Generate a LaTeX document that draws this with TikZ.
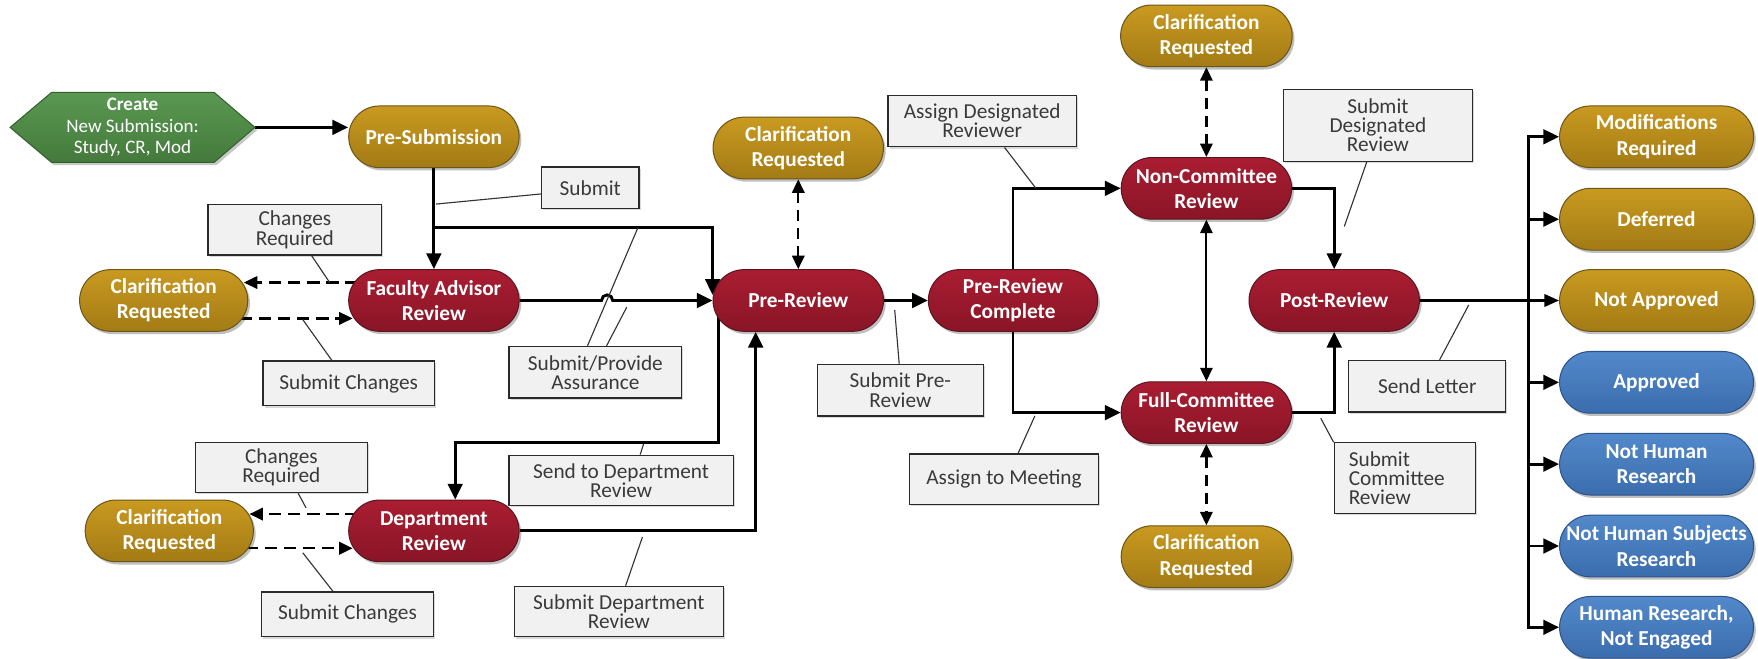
\documentclass[tikz,border=0pt]{standalone}
\usepackage{fontspec}
\setmainfont{Carlito}
\usetikzlibrary{arrows.meta,shadows,calc}
\pgfdeclarelayer{background}
\pgfsetlayers{background,main}

\definecolor{goldT}{HTML}{C99A20}
\definecolor{goldB}{HTML}{A37B15}
\definecolor{goldD}{HTML}{6B5518}
\definecolor{redT}{HTML}{AA1D32}
\definecolor{redB}{HTML}{891526}
\definecolor{redD}{HTML}{5C1420}
\definecolor{blueT}{HTML}{5289CA}
\definecolor{blueB}{HTML}{3B6DAE}
\definecolor{blueD}{HTML}{2D5287}
\definecolor{greenT}{HTML}{5A9852}
\definecolor{greenB}{HTML}{447A3C}
\definecolor{greenD}{HTML}{335F2D}
\definecolor{lblF}{HTML}{F1F1F1}
\definecolor{lblD}{HTML}{2A2A2A}
\definecolor{lblT}{HTML}{3A3A3A}
\definecolor{leadC}{HTML}{333333}

\begin{document}
\begin{tikzpicture}[x=1pt,y=-1pt,
  pill/.style={rectangle, rounded corners=27.5pt, minimum width=152pt, minimum height=55pt,
    inner sep=0pt, align=center, text=white, font=\fontsize{19}{22.5}\selectfont\bfseries,
    line width=0.9pt, drop shadow={shadow xshift=2pt, shadow yshift=-2.5pt, opacity=0.25, fill=black}},
  goldpill/.style={pill, top color=goldT, bottom color=goldB, draw=goldD},
  redpill/.style={pill, top color=redT, bottom color=redB, draw=redD},
  bluepill/.style={pill, top color=blueT, bottom color=blueB, draw=blueD},
  outw/.style={minimum width=173pt},
  lbl/.style={rectangle, draw=lblD, line width=1.1pt, fill=lblF, text=lblT, align=center,
    inner sep=0pt, font=\fontsize{19}{17}\selectfont,
    drop shadow={shadow xshift=1.5pt, shadow yshift=-1.5pt, opacity=0.15, fill=black}},
  conn/.style={line width=2.6pt, -{Triangle[length=14pt,width=13pt]}},
  thinconn/.style={line width=2pt, -{Triangle[length=13pt,width=11pt]}},
  dasharr/.style={line width=2.2pt, dash pattern=on 11pt off 6pt, -{Triangle[length=12pt,width=11pt]}},
  dashboth/.style={line width=2pt, dash pattern=on 10pt off 6pt,
    {Triangle[length=12pt,width=11pt]}-{Triangle[length=12pt,width=11pt]}},
  solidboth/.style={line width=1.8pt, {Triangle[length=12pt,width=11pt]}-{Triangle[length=12pt,width=11pt]}},
  lead/.style={line width=1pt, draw=leadC},
  busline/.style={line width=2.6pt, line cap=rect}
]
\useasboundingbox (0,0) rectangle (1568,587);

% ---------- hexagon ----------
\fill[black, opacity=0.22] (11,116.1) -- (48,84.9) -- (193,84.9) -- (229.4,116.1) -- (193,147.3) -- (48,147.3) -- cycle;
\draw[draw=greenD, line width=0.9pt, top color=greenT, bottom color=greenB]
  (9,113.6) -- (46,82.4) -- (191,82.4) -- (227.4,113.6) -- (191,144.8) -- (46,144.8) -- cycle;
\node[text=white, font=\fontsize{17}{19.5}\selectfont, align=center, minimum width=218.4pt,
  minimum height=62.4pt, inner sep=0pt] (create) at (118.2,113.6)
  {\textbf{Create}\\New Submission:\\Study, CR, Mod};

% ---------- pills ----------
\node[goldpill] (presub) at (387,122) {Pre-Submission};
\node[redpill] (far) at (387,268) {Faculty Advisor\\Review};
\node[goldpill, minimum width=150pt] (clarA) at (146,268) {Clarification\\Requested};
\node[redpill] (dept) at (387,473.5) {Department\\Review};
\node[goldpill, minimum width=150pt] (clarB) at (151,473.5) {Clarification\\Requested};
\node[redpill] (prerev) at (712,268) {Pre-Review};
\node[goldpill] (clarM) at (712,132) {Clarification\\Requested};
\node[redpill, minimum width=151pt] (prc) at (903.5,268) {Pre-Review\\Complete};
\node[redpill] (ncr) at (1076,168) {Non-Committee\\Review};
\node[redpill] (fcr) at (1076,368) {Full-Committee\\Review};
\node[goldpill, minimum width=153pt] (clarT) at (1076,32) {Clarification\\Requested};
\node[goldpill] (clarD) at (1076,496.5) {Clarification\\Requested};
\node[redpill] (post) at (1190,268) {Post-Review};

\node[goldpill, outw] (mod) at (1477.5,122) {Modifications\\Required};
\node[goldpill, outw] (defr) at (1477.5,195.5) {Deferred};
\node[goldpill, outw] (na) at (1477.5,268) {Not Approved};
\node[bluepill, outw] (appr) at (1477.5,341) {Approved};
\node[bluepill, outw] (nhr) at (1477.5,414) {Not Human\\Research};
\node[bluepill, outw] (nhsr) at (1477.5,487) {Not Human Subjects\\Research};
\node[bluepill, outw] (hrne) at (1477.5,559.5) {Human Research,\\Not Engaged};

% ---------- label boxes ----------
\node[lbl, minimum width=155pt, minimum height=45pt] (cr1) at (263,205) {Changes\\Required};
\node[lbl, minimum width=153pt, minimum height=40pt] (sc1) at (311,342) {Submit Changes};
\node[lbl, minimum width=153pt, minimum height=45pt] (cr2) at (251,417) {Changes\\Required};
\node[lbl, minimum width=153pt, minimum height=40pt] (sc2) at (310,548) {Submit Changes};
\node[lbl, minimum width=87pt, minimum height=37pt] (sub) at (526.5,167.5) {Submit};
\node[lbl, minimum width=154pt, minimum height=46pt] (spa) at (531,332) {Submit/Provide\\Assurance};
\node[lbl, minimum width=200pt, minimum height=45pt] (sdr1) at (554,428.5) {Send to Department\\Review};
\node[lbl, minimum width=186pt, minimum height=45pt] (sdept) at (552,545.5) {Submit Department\\Review};
\node[lbl, minimum width=148pt, minimum height=46pt] (spr) at (803,348) {Submit Pre-\\Review};
\node[lbl, minimum width=168pt, minimum height=46pt] (adr) at (876,108) {Assign Designated\\Reviewer};
\node[lbl, minimum width=169pt, minimum height=45pt] (atm) at (895.5,427.5) {Assign to Meeting};
\node[lbl, minimum width=168pt, minimum height=64pt] (sdes) at (1229,112) {Submit\\Designated\\Review};
\node[lbl, minimum width=140pt, minimum height=46pt] (sl) at (1273,344.5) {Send Letter};
\node[lbl, minimum width=126pt, minimum height=63pt, text width=100pt, align=left] (scr) at (1253,426.5) {Submit\\Committee\\Review};

% ---------- connectors ----------
\begin{pgfonlayer}{background}
\fill[white] (0,0) rectangle (1568,587);

\draw[conn] (create.east) -- (create.east -| presub.west);
\draw[conn] (presub.south) -- (far.north);
\coordinate (brA) at (387,203);
\draw[conn] (brA) -| ($(prerev.west)+(0,-5)$);
\draw[conn] (far.east) -- (536.5,268) arc[start angle=180, end angle=360, radius=5] -- (prerev.west);
\draw[conn] (prerev.east) -- (prc.west);
\coordinate (dTurn) at (406,395);
\draw[conn] ($(prerev.west)+(5,0)$) |- (dTurn) -- ($(dept.north)+(19,0)$);
\draw[conn] (dept.east) -| ($(prerev.south)+(-38,0)$);

\draw[dasharr] ($(far.center)+(0,-16)$) -- ($(clarA.east)+(-4,-16)$);
\draw[dasharr] ($(clarA.center)+(0,16)$) -- ($(far.west)+(4,16)$);
\draw[dasharr] ($(dept.center)+(0,-15)$) -- ($(clarB.east)+(-4,-15)$);
\draw[dasharr] ($(clarB.center)+(0,15.5)$) -- ($(dept.west)+(4,15.5)$);

\draw[dashboth] (clarM.south) -- (prerev.north);
\draw[conn] (prc.north) |- (ncr.west);
\draw[conn] (prc.south) |- (fcr.west);
\draw[solidboth] (ncr.south) -- (fcr.north);
\draw[dashboth] (clarT.south) -- (ncr.north);
\draw[dashboth] (fcr.south) -- (clarD.north);
\draw[conn] (ncr.east) -| (post.north);
\draw[conn] (fcr.east) -| (post.south);
\draw[thinconn] (post.east) -- (na.west);

\coordinate (bus) at (1363,0);
\draw[busline] (bus |- mod.west) -- (bus |- hrne.west);
\foreach \n in {mod,defr,appr,nhr,nhsr,hrne}{
  \draw[conn] (bus |- \n.west) -- (\n.west);
}

% leaders
\draw[lead] ($(cr1.south)+(15,0)$) -- (294,252);
\draw[lead] ($(sc1.north)+(-15,0)$) -- (270,285);
\draw[lead] ($(sub.west)+(0,5.5)$) -- (389,182);
\draw[lead] ($(spa.north)+(-7,0)$) -- (569,203);
\draw[lead] ($(spa.north)+(10,0)$) -- (559,274);
\draw[lead] ($(sdr1.north)+(17,0)$) -- (574,396);
\draw[lead] ($(sdept.north)+(6,0)$) -- (573,479);
\draw[lead] ($(cr2.south)+(15,0)$) -- (273,453);
\draw[lead] ($(sc2.north)+(-13,0)$) -- (270,493);
\draw[lead] ($(spr.north)+(-1,0)$) -- (798,276.5);
\draw[lead] ($(adr.south)+(20,0)$) -- (924,168);
\draw[lead] ($(atm.north)+(12.5,0)$) -- (923,371);
\draw[lead] ($(sdes.south)+(-10,0)$) -- (1199,202);
\draw[lead] ($(sl.north)+(11,0)$) -- (1310,272);
\draw[lead] (scr.north west) -- (1178,373);
\end{pgfonlayer}
\end{tikzpicture}
\end{document}
